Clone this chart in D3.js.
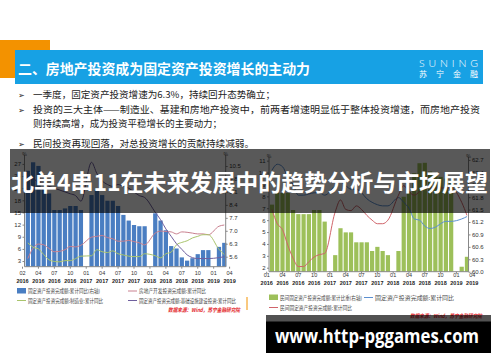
<!DOCTYPE html>
<html>
<head>
<meta charset="utf-8">
<script src="https://cdn.jsdelivr.net/npm/d3@7"></script>
<style>
  body { margin: 0; background: #fff; }
  svg { display: block; font-family: "Noto Sans CJK SC", "Liberation Sans", sans-serif; }
</style>
</head>
<body>
<svg id="slide" width="500" height="362"></svg>
<script>
// month slots: 0 = 2016-01 ... 39 = 2019-04 (null = no data, e.g. January)
let monthSlots = d3.range(40);
let tickSlots = [0, 3, 6, 9, 12, 15, 18, 21, 24, 27, 30, 33, 36, 39];
let leftMonthText = ["02","04","07","10","01","04","07","10","01","04","07","10","01","04"];
let rightMonthText = ["01","04","07","10","01","04","07","10","01","04","07","10","01","04"];
let yearText = ["2016","2016","2016","2016","2017","2017","2017","2017","2018","2018","2018","2018","2019","2019"];

// left chart, %
let infraGrowth = [null, 25.3, 27.4, 26.5, 21.0, 19.7, 15.6, 15.6, 16.0, 16.6, 16.6, 15.6,
                   null, 19.3, 20.5, 19.3, 17.9, 17.9, 16.6, 14.4, 13.0, 11.9, 11.6, 11.6,
                   null, 14.8, 13.0, 10.6, 6.7, 6.1, 3.9, 3.1, 3.7, 4.7, 5.7, 5.7,
                   null, 6.5, 7.5, null];
let realEstateGrowth = [null, 3.6, 6.2, 7.2, 7.0, 6.1, 5.3, 5.4, 5.8, 6.6, 6.5, 6.9,
                        null, 8.9, 9.1, 9.3, 8.8, 8.5, 7.9, 7.9, 8.1, 7.8, 7.5, 7.0,
                        null, 9.9, 10.4, 10.3, 10.2, 9.7, 10.2, 10.1, 9.9, 9.7, 9.7, 9.5,
                        null, 11.6, 11.9, null];
let manufGrowth = [null, 7.5, 6.4, 6.0, 4.6, 3.3, 2.9, 2.8, 3.1, 3.1, 3.6, 4.2,
                   null, 4.3, 5.8, 5.3, 5.1, 5.5, 4.8, 4.5, 4.2, 4.1, 4.1, 4.8,
                   null, 4.3, 3.8, 4.8, 5.2, 7.0, 7.6, 8.0, 8.7, 9.1, 9.5, 9.5,
                   null, 5.9, 4.6, null];
let totalGrowthR = [null, 9.7, 9.8, 9.6, 9.5, 9.4, 9.3, 9.2, 9.1, 9.0, 8.9, 8.6,
                    null, 10.7, 10.1, 9.7, 9.5, 9.4, 9.5, 9.4, 9.3, 9.1, 8.9, 8.8,
                    null, 8.0, 7.6, 7.1, 6.7, 6.3, 6.0, 5.7, 5.55, 5.5, 5.5, 5.5,
                    null, 5.55, 5.6, null];
let leftTicks = [3, 6, 9, 12, 15, 18, 21, 24, 27];
let leftRightTicks = [5.6, 6.3, 7.0, 7.7, 8.4, 9.1, 9.8, 10.5];

// right chart
let privateShare = [null, 61.62, 61.9, 61.9, 61.9, 61.49, 61.39, 61.39, 61.39, 61.49, 61.49, 61.21,
                    null, 60.40, 61.05, 60.95, 60.95, 60.71, 60.71, 60.71, 60.50, 60.60, 60.50, 60.40,
                    null, 60.50, 61.81, 61.93, 62.38, 62.62, 62.63, 62.42, 62.38, 62.29, 62.25, 62.21,
                    null, 60.12, 60.36, null];
let faiGrowth = [null, 10.2, 10.7, 10.5, 9.6, 9.0, 8.1, 8.1, 8.2, 8.3, 8.3, 8.1,
                 null, 8.9, 9.2, 8.9, 8.6, 8.6, 8.3, 7.8, 7.5, 7.3, 7.2, 7.2,
                 null, 7.9, 7.5, 7.0, 6.1, 6.0, 5.5, 5.3, 5.4, 5.7, 5.9, 5.9,
                 null, 6.1, 6.3, null];
let privateGrowth = [null, 6.9, 5.7, 5.2, 3.9, 2.8, 2.1, 2.1, 2.5, 2.9, 3.1, 3.2,
                     null, 6.7, 7.7, 6.9, 6.8, 7.2, 6.9, 6.4, 6.0, 5.7, 5.7, 6.0,
                     null, 8.1, 8.9, 8.4, 8.1, 8.4, 8.8, 8.7, 8.7, 8.7, 8.7, 8.7,
                     null, 7.5, 6.4, null];
let rightLeftTicks = [2, 3, 4, 5, 6, 7, 8, 9, 10, 11];
let rightRightTicks = [60.0, 60.3, 60.6, 60.9, 61.2, 61.5, 61.8, 62.1, 62.4, 62.7];

let bullets = [
  {t: "一季度，固定资产投资增速为6.3%，持续回升态势确立；", w: 242, y: 98, arrow: true},
  {t: "投资的三大主体——制造业、基建和房地产投资中，前两者增速明显低于整体投资增速，而房地产投资", w: 447, y: 112.5, arrow: true},
  {t: "则持续高增，成为投资平稳增长的主要动力；", w: 189, y: 127.3, arrow: false},
  {t: "民间投资再现回落，对总投资增长的贡献持续减弱。", w: 221, y: 146.5, arrow: true}
];

let svg = d3.select("#slide");
let numFont = "Liberation Sans, Arial, sans-serif";

function pts(arr){ return arr.map((v, i) => ({i: i, v: v})).filter(d => d.v != null); }

function styleAxis(g){
  g.attr("font-family", numFont).attr("font-size", 6);
  g.select("path.domain").remove();
  g.selectAll(".tick line").attr("stroke", "#888");
  g.selectAll(".tick text").attr("fill", "#333");
}

function drawChart(cfg){
  let x = d3.scaleBand().domain(monthSlots).range(cfg.xRange).paddingInner(0.2).paddingOuter(0.1);
  let yL = d3.scaleLinear().domain(cfg.yLDomain).range([cfg.bottom, cfg.top]);
  let yR = d3.scaleLinear().domain(cfg.yRDomain).range([cfg.bottom, cfg.top]);
  let g = svg.append("g").attr("class", cfg.name);
  let barY = cfg.barAxis == "left" ? yL : yR;

  g.append("g").selectAll("rect")
    .data(pts(cfg.bars))
    .join("rect")
      .attr("x", d => x(d.i))
      .attr("width", x.bandwidth())
      .attr("y", d => barY(d.v))
      .attr("height", d => cfg.bottom - barY(d.v))
      .attr("fill", cfg.barColor);

  cfg.lines.forEach(function(l){
    let y = l.axis == "left" ? yL : yR;
    let line = d3.line().x(d => x(d.i) + x.bandwidth() / 2).y(d => y(d.v)).curve(d3.curveMonotoneX);
    g.append("path").datum(pts(l.values))
      .attr("fill", "none").attr("stroke", l.color).attr("stroke-width", 1).attr("d", line);
  });

  // frame lines
  g.append("line").attr("x1", cfg.leftX).attr("x2", cfg.leftX).attr("y1", cfg.bottom).attr("y2", cfg.top).attr("stroke", "#888");
  g.append("line").attr("x1", cfg.rightX).attr("x2", cfg.rightX).attr("y1", cfg.bottom).attr("y2", cfg.top).attr("stroke", "#888");
  g.append("line").attr("x1", cfg.leftX).attr("x2", cfg.rightX).attr("y1", cfg.bottom).attr("y2", cfg.bottom).attr("stroke", "#888");

  g.append("g").attr("transform", `translate(${cfg.leftX},0)`)
    .call(d3.axisLeft(yL).tickValues(cfg.leftTicks).tickSize(2).tickPadding(1.5).tickFormat(d3.format("d")))
    .call(styleAxis);
  g.append("g").attr("transform", `translate(${cfg.rightX},0)`)
    .call(d3.axisRight(yR).tickValues(cfg.rightTicks).tickSize(2).tickPadding(1.5).tickFormat(d3.format(".1f")))
    .call(styleAxis);

  let ax = g.append("g").attr("transform", `translate(0,${cfg.bottom})`)
    .call(d3.axisBottom(x).tickValues(tickSlots).tickSize(2).tickFormat((d, k) => cfg.monthText[k]))
    .call(styleAxis);
  ax.attr("font-size", 5.5);
  ax.selectAll(".tick text").attr("dy", null).attr("y", cfg.monthDy);
  ax.selectAll(".tick").append("text")
    .attr("y", cfg.yearDy).attr("fill", "#222").attr("font-weight", "bold")
    .text((d, k) => yearText[k]);

  g.append("text").attr("x", cfg.leftX).attr("y", cfg.top + 1).attr("font-size", 5).attr("fill", "#444").attr("text-anchor", "middle").text("%");
  g.append("text").attr("x", cfg.rightX).attr("y", cfg.top + 1).attr("font-size", 5).attr("fill", "#444").attr("text-anchor", "middle").text("%");

  // legend
  let lg = g.append("g").attr("font-size", 5.2).attr("fill", "#444");
  cfg.legend.forEach(function(it){
    if (it.type == "rect") {
      lg.append("rect").attr("x", it.x).attr("y", it.y - 3).attr("width", 9).attr("height", 5.5).attr("fill", it.color);
    } else {
      lg.append("line").attr("x1", it.x).attr("x2", it.x + 9).attr("y1", it.y).attr("y2", it.y).attr("stroke", it.color).attr("stroke-width", 1);
    }
    lg.append("text").attr("x", it.x + 11).attr("y", it.y + 2)
      .attr("textLength", it.w).attr("lengthAdjust", "spacingAndGlyphs").text(it.label);
  });

  g.append("text").attr("x", cfg.src[0]).attr("y", cfg.src[1]).attr("font-size", 5.5)
    .attr("fill", "#e3262b").attr("font-style", "italic").attr("font-weight", "bold")
    .attr("textLength", 72).attr("lengthAdjust", "spacingAndGlyphs")
    .text("数据来源：Wind，苏宁金融研究院");
}

// ---- slide header ----
svg.append("rect").attr("x", 0).attr("y", 40).attr("width", 50).attr("height", 38).attr("fill", "#f39200");
svg.append("rect").attr("x", 15).attr("y", 50).attr("width", 468).attr("height", 34).attr("fill", "#17a1e4");
svg.append("text").attr("x", 18).attr("y", 74).attr("font-size", 14).attr("font-weight", "bold").attr("fill", "#fff")
  .attr("textLength", 292).attr("lengthAdjust", "spacingAndGlyphs")
  .text("二、房地产投资成为固定资产投资增长的主动力");
svg.append("text").attr("x", 419).attr("y", 67).attr("font-size", 10.5).attr("fill", "#fff")
  .attr("font-family", "Lato, Open Sans, sans-serif").attr("font-weight", 300)
  .attr("textLength", 59).attr("lengthAdjust", "spacing").text("SUNING");
svg.append("text").attr("x", 419).attr("y", 76.5).attr("font-size", 8).attr("fill", "#fff")
  .attr("textLength", 59).attr("lengthAdjust", "spacing").text("苏宁金融");

let bl = svg.append("g").attr("fill", "#222");
bullets.forEach(function(b){
  if (b.arrow) bl.append("text").attr("x", 18).attr("y", b.y).attr("font-size", 8).attr("font-family", "DejaVu Sans").text("➢");
  bl.append("text").attr("x", 33).attr("y", b.y).attr("font-size", 9.6)
    .attr("textLength", b.w).attr("lengthAdjust", "spacingAndGlyphs").text(b.t);
});

// ---- charts ----
drawChart({
  name: "leftChart",
  xRange: [19.85, 232.25], leftX: 24.5, rightX: 225.7, top: 155, bottom: 266.7,
  yLDomain: [1.6, 29.2], yRDomain: [5.06, 11.094],
  leftTicks: leftTicks, rightTicks: leftRightTicks,
  bars: infraGrowth, barAxis: "left", barColor: "#4a7ec2",
  lines: [
    {values: realEstateGrowth, axis: "left", color: "#c9808f"},
    {values: manufGrowth, axis: "left", color: "#a9c46c"},
    {values: totalGrowthR, axis: "right", color: "#6f5f9e"}
  ],
  monthText: leftMonthText, monthDy: 8.6, yearDy: 16.3,
  legend: [
    {type: "rect", x: 17, y: 291, color: "#4a7ec2", label: "固定资产投资完成额:累计同比(右轴)", w: 72},
    {type: "line", x: 128, y: 291, color: "#c9808f", label: "房地产开发投资完成额:累计同比", w: 67},
    {type: "line", x: 17, y: 300.5, color: "#a9c46c", label: "固定资产投资完成额:制造业:累计同比", w: 75},
    {type: "line", x: 128, y: 300.5, color: "#6f5f9e", label: "固定资产投资完成额:基础设施建设投资:累计同比", w: 97}
  ],
  src: [168, 311.5]
});

drawChart({
  name: "rightChart",
  xRange: [264.07, 474.87], leftX: 269, rightX: 468.5, top: 157, bottom: 271.7,
  yLDomain: [1.664, 11.31], yRDomain: [60, 62.77],
  leftTicks: rightLeftTicks, rightTicks: rightRightTicks,
  bars: privateShare, barAxis: "right", barColor: "#9dc05a",
  lines: [
    {values: faiGrowth, axis: "left", color: "#5b8fd0"},
    {values: privateGrowth, axis: "left", color: "#d0646a"}
  ],
  monthText: rightMonthText, monthDy: 5.5, yearDy: 13.5,
  legend: [
    {type: "rect", x: 269, y: 297.5, color: "#9dc05a", label: "民间固定资产投资完成额:累计比重(右轴)", w: 82},
    {type: "line", x: 364, y: 297.5, color: "#5b8fd0", label: "固定资产投资完成额:累计同比", w: 79},
    {type: "line", x: 269, y: 307.5, color: "#d0646a", label: "民间固定资产投资完成额:累计同比", w: 72}
  ],
  src: [410, 317.5]
});

svg.append("line").attr("x1", 247).attr("x2", 247).attr("y1", 297).attr("y2", 310).attr("stroke", "#f39200").attr("stroke-width", 1);

// ---- overlays ----
svg.append("rect").attr("x", 10).attr("y", 149).attr("width", 480).attr("height", 64).attr("fill", "rgba(0,0,0,0.65)");
svg.append("text").attr("x", 11).attr("y", 191).attr("font-size", 23).attr("font-weight", "bold").attr("fill", "#fff")
  .attr("textLength", 477).attr("lengthAdjust", "spacingAndGlyphs")
  .text("北单4串11在未来发展中的趋势分析与市场展望");

svg.append("rect").attr("x", 266).attr("y", 315).attr("width", 225).attr("height", 38).attr("fill", "rgba(0,0,0,0.68)");
svg.append("rect").attr("x", 266).attr("y", 321.5).attr("width", 225).attr("height", 31.5).attr("fill", "#000");
svg.append("text").attr("x", 275).attr("y", 343).attr("font-size", 20).attr("font-weight", "bold").attr("fill", "#fff")
  .attr("font-family", "Open Sans, DejaVu Sans, sans-serif")
  .attr("textLength", 204).attr("lengthAdjust", "spacingAndGlyphs")
  .text("www.http-pggames.com");
</script>
</body>
</html>
